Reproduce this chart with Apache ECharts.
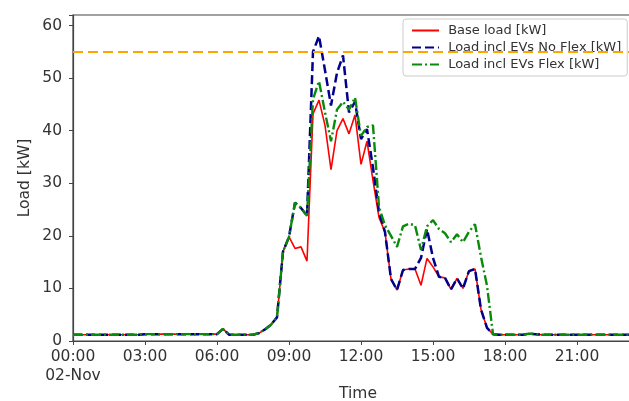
<!DOCTYPE html>
<html>
<head>
<meta charset="utf-8">
<script src="https://cdn.jsdelivr.net/npm/echarts@6/dist/echarts.min.js"></script>
<style>
html,body{margin:0;padding:0;background:#fff;}
#chart{width:629px;height:401px;}
</style>
</head>
<body>
<div id="chart"></div>
<script>
// 15-minute time steps, 00:00 .. 23:45 on 02-Nov
var times = [];
for (var h = 0; h < 24; h++) {
  for (var m = 0; m < 60; m += 15) {
    times.push((h < 10 ? '0' : '') + h + ':' + (m < 10 ? '0' : '') + m);
  }
}
var xTickLabels = ['00:00\n02-Nov','03:00','06:00','09:00','12:00','15:00','18:00','21:00'];
var yTicks = [0,10,20,30,40,50,60];
var limitValue = 55;

var baseLoad = [
  1.2,1.2,1.2,1.2, 1.2,1.2,1.2,1.2, 1.2,1.2,1.2,1.2,          // 00-02
  1.3,1.3,1.3,1.3, 1.3,1.3,1.3,1.3, 1.3,1.3,1.3,1.3,          // 03-05
  1.3,2.3,1.2,1.2, 1.2,1.2,1.2,1.5,                           // 06-07
  2.2,3.1,4.5,17.0, 19.8,17.6,17.9,15.2,                      // 08-09
  43.2,45.8,41.0,32.6, 40.0,42.3,39.4,43.0,                   // 10-11
  33.6,38.0,30.5,23.5, 20.7,11.8,9.7,13.5,                    // 12-13
  13.7,13.7,10.6,15.7, 14.1,12.2,12.0,9.8,                    // 14-15
  11.9,10.0,13.3,13.7, 6.0,2.5,1.3,1.2,                       // 16-17
  1.2,1.2,1.2,1.2, 1.4,1.3,1.2,1.2,                           // 18-19
  1.2,1.2,1.2,1.2, 1.2,1.2,1.2,1.2,                           // 20-21
  1.2,1.2,1.2,1.2, 1.2,1.2,1.2,1.2                            // 22-23
];
var noFlex = [
  1.2,1.2,1.2,1.2, 1.2,1.2,1.2,1.2, 1.2,1.2,1.2,1.2,
  1.3,1.3,1.3,1.3, 1.3,1.3,1.3,1.3, 1.3,1.3,1.3,1.3,
  1.3,2.3,1.2,1.2, 1.2,1.2,1.2,1.5,
  2.2,3.1,4.5,17.0, 19.8,26.3,25.3,23.8,
  55.0,58.0,51.5,44.8, 51.0,54.3,43.5,45.5,
  38.4,40.3,33.0,24.5, 20.7,11.8,9.7,13.5,
  13.7,13.7,15.8,21.3, 15.8,12.2,12.0,9.8,
  11.9,10.0,13.3,13.7, 6.0,2.5,1.3,1.2,
  1.2,1.2,1.2,1.2, 1.4,1.3,1.2,1.2,
  1.2,1.2,1.2,1.2, 1.2,1.2,1.2,1.2,
  1.2,1.2,1.2,1.2, 1.2,1.2,1.2,1.2
];
var flex = [
  1.2,1.2,1.2,1.2, 1.2,1.2,1.2,1.2, 1.2,1.2,1.2,1.2,
  1.3,1.3,1.3,1.3, 1.3,1.3,1.3,1.3, 1.3,1.3,1.3,1.3,
  1.3,2.3,1.2,1.2, 1.2,1.2,1.2,1.5,
  2.2,3.1,4.5,17.0, 19.8,26.3,25.3,23.8,
  46.0,49.4,43.5,38.0, 44.0,45.5,44.0,46.3,
  39.0,40.7,41.0,25.5, 22.0,20.0,17.9,21.8,
  22.3,22.0,17.3,21.8, 23.0,21.3,20.5,18.8,
  20.3,18.8,20.8,22.2, 16.0,10.5,1.3,1.2,
  1.2,1.2,1.2,1.2, 1.4,1.3,1.2,1.2,
  1.2,1.2,1.2,1.2, 1.2,1.2,1.2,1.2,
  1.2,1.2,1.2,1.2, 1.2,1.2,1.2,1.2
];

var FONT = 'DejaVu Sans';
var chart = echarts.init(document.getElementById('chart'), null, {renderer: 'canvas'});
chart.setOption({
  animation: false,
  backgroundColor: '#ffffff',
  grid: {
    left: 73, top: 15, bottom: 60, right: -14,
    containLabel: false, outerBoundsMode: 'none',
    show: true, borderColor: '#444', borderWidth: 1.2, backgroundColor: 'transparent'
  },
  legend: {
    orient: 'vertical',
    left: 403, top: 19,
    padding: [5, 6, 5, 8],
    itemWidth: 27, itemHeight: 10, itemGap: 4,
    itemStyle: {opacity: 0},
    backgroundColor: 'rgba(255,255,255,0.8)',
    borderColor: '#cccccc', borderWidth: 1, borderRadius: 3,
    textStyle: {fontFamily: FONT, fontSize: 13, color: '#333', lineHeight: 13},
    formatter: function (n) { return ' ' + n; },
    data: ['Base load [kW]', 'Load incl EVs No Flex [kW]', 'Load incl EVs Flex [kW]']
  },
  xAxis: {
    type: 'category',
    data: times,
    boundaryGap: false,
    name: 'Time', nameLocation: 'middle', nameGap: 45, nameMoveOverlap: false,
    nameTextStyle: {fontFamily: FONT, fontSize: 15.5, color: '#333'},
    axisLine: {show: true, lineStyle: {color: '#444', width: 1.2}},
    axisTick: {show: true, interval: 11, length: 4, lineStyle: {color: '#444'}},
    axisLabel: {
      interval: 11, margin: 7, fontFamily: FONT, fontSize: 15.5, color: '#333', lineHeight: 18.5,
      formatter: function (v, i) { return xTickLabels[i / 12] !== undefined ? xTickLabels[i / 12] : ''; }
    },
    splitLine: {show: false}
  },
  yAxis: {
    type: 'value', min: 0, max: 62, interval: 10,
    name: 'Load [kW]', nameLocation: 'middle', nameGap: 40, nameMoveOverlap: false,
    nameTextStyle: {fontFamily: FONT, fontSize: 15.5, color: '#333'},
    axisLine: {show: true, lineStyle: {color: '#444', width: 1.2}},
    axisTick: {show: true, length: 4, lineStyle: {color: '#444'}},
    axisLabel: {
      margin: 11, fontFamily: FONT, fontSize: 15.5, color: '#333',
      formatter: function (v) { return yTicks.indexOf(v) >= 0 ? String(v) : ''; }
    },
    splitLine: {show: false}
  },
  series: [
    {
      name: 'Base load [kW]', type: 'line', data: baseLoad, showSymbol: false, symbol: 'none',
      lineStyle: {color: '#ff0000', width: 1.6}, itemStyle: {color: '#ff0000'}, z: 2
    },
    {
      name: 'Load incl EVs No Flex [kW]', type: 'line', data: noFlex, showSymbol: false, symbol: 'none',
      lineStyle: {color: '#00008b', width: 2.5, type: [9, 4]}, itemStyle: {color: '#00008b'}, z: 3
    },
    {
      name: 'Load incl EVs Flex [kW]', type: 'line', data: flex, showSymbol: false, symbol: 'none',
      lineStyle: {color: '#0a8a0a', width: 2.4, type: [10, 3, 2, 3]}, itemStyle: {color: '#0a8a0a'}, z: 4,
      markLine: {
        silent: true, symbol: ['none', 'none'], label: {show: false},
        lineStyle: {color: '#ffa500', width: 2, type: [10, 5]},
        data: [{yAxis: limitValue}]
      }
    }
  ]
});
</script>
</body>
</html>
